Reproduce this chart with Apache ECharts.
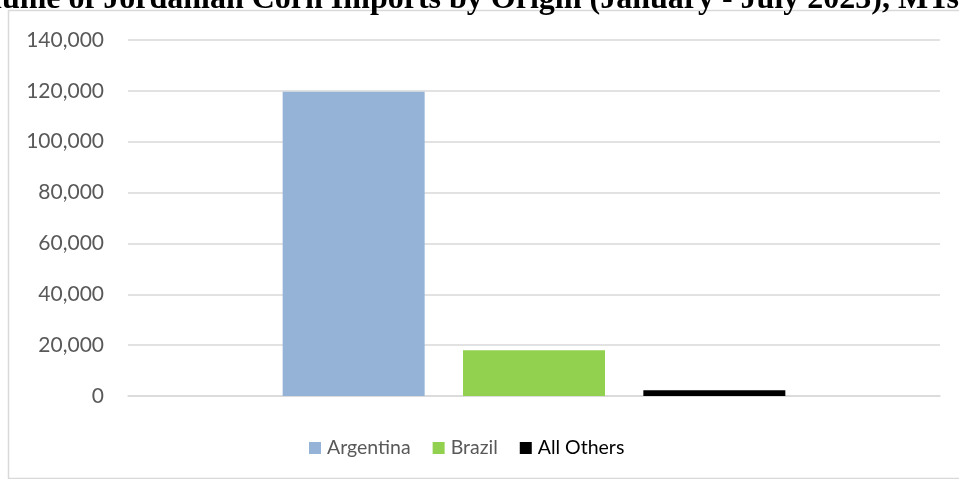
<!DOCTYPE html>
<html><head><meta charset="utf-8">
<script src="https://cdn.jsdelivr.net/npm/echarts@6/dist/echarts.min.js"></script>
<style>html,body{margin:0;padding:0;background:#fff}#c{width:959px;height:479px}</style>
</head><body><div id="c"></div>
<script>
const categories = [''];
const seriesNames = ['Argentina', 'Brazil', 'All Others'];
const seriesValues = [[119600], [18000], [2300]];
const seriesColors = ['#95b3d7', '#92d050', '#000000'];
const yTicks = [0, 20000, 40000, 60000, 80000, 100000, 120000, 140000];
const titleText = 'Volume of Jordanian Corn Imports by Origin (January - July 2023), MTs';

const chart = echarts.init(document.getElementById('c'), null, {renderer: 'canvas'});
chart.setOption({
  animation: false,
  backgroundColor: '#fff',
  graphic: [
    {type: 'rect', shape: {x: 8.5, y: 10.5, width: 1100, height: 468}, style: {fill: 'none', stroke: '#d9d9d9', lineWidth: 1.5}, z: 0},
    {type: 'text', x: 959, y: 0, style: {text: titleText, font: 'bold 32px "Liberation Serif", "Times New Roman", serif', fill: '#000', textAlign: 'right', textVerticalAlign: 'middle'}, z: 10}
  ],
  grid: {left: 128, right: 19, top: 40, bottom: 83},
  legend: {
    left: 309, top: 438, padding: 0, itemWidth: 12, itemHeight: 12, itemGap: 22,
    icon: 'rect',
    textStyle: {fontFamily: 'Lato', fontSize: 19.5, color: '#595959', padding: [0, 0, 0, 1]},
    data: seriesNames.map((n, i) => ({name: n, textStyle: {color: i === 2 ? '#000' : '#595959'}}))
  },
  xAxis: {
    type: 'category', data: categories,
    axisLine: {show: true, lineStyle: {color: '#d9d9d9', width: 1.5}},
    axisTick: {show: false}, axisLabel: {show: false}
  },
  yAxis: {
    type: 'value', min: yTicks[0], max: yTicks[yTicks.length - 1], interval: yTicks[1] - yTicks[0],
    axisLine: {show: false}, axisTick: {show: false},
    splitLine: {lineStyle: {color: '#d9d9d9', width: 1.5}},
    axisLabel: {margin: 24, fontFamily: 'Lato', fontSize: 21, color: '#595959',
      formatter: v => v.toLocaleString('en-US')}
  },
  series: seriesNames.map((n, i) => ({
    name: n, type: 'bar', data: seriesValues[i], barWidth: 142, barGap: '27%',
    itemStyle: {color: seriesColors[i]}
  }))
});
</script></body></html>
